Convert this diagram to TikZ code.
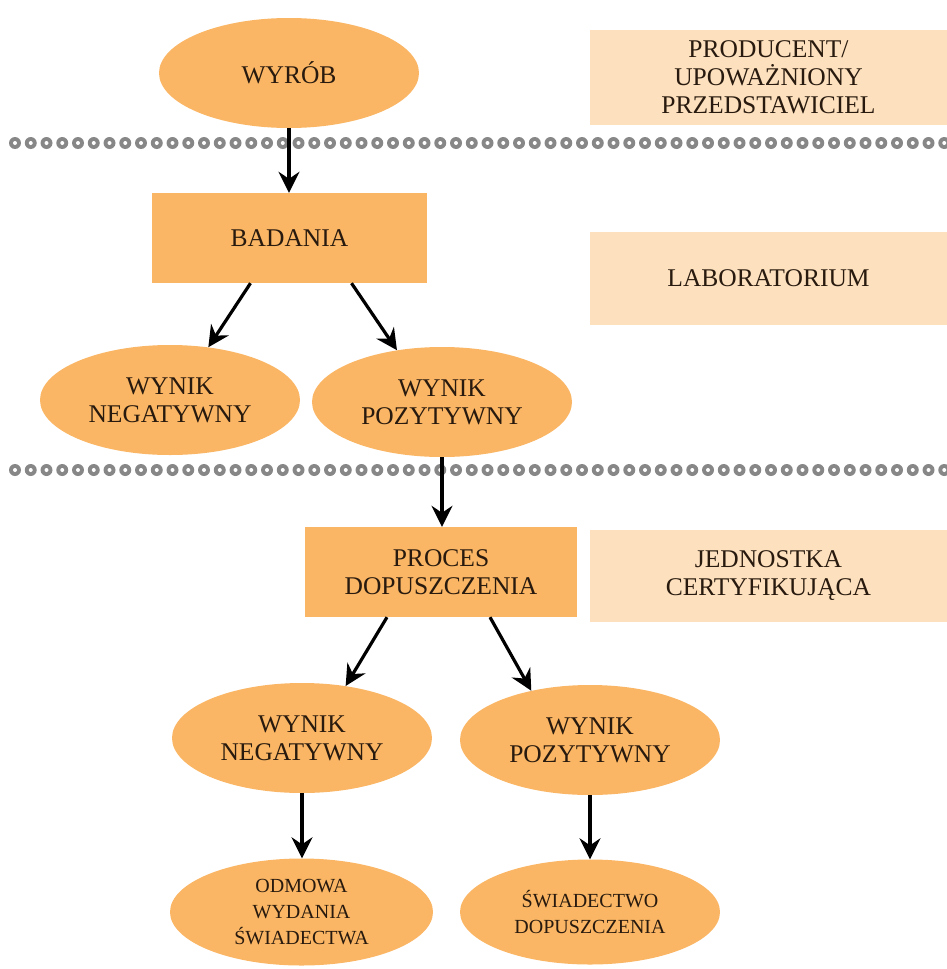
\documentclass[tikz,border=0pt]{standalone}
\usepackage{fontspec}
\setmainfont{Liberation Serif}
\usetikzlibrary{shapes.geometric,arrows.meta,calc}
\definecolor{orangefill}{RGB}{250,182,100}
\definecolor{peachfill}{RGB}{253,224,190}
\definecolor{txtcol}{RGB}{40,26,14}
\definecolor{dotgray}{RGB}{135,135,135}
\tikzset{
  oval/.style={ellipse, fill=orangefill, inner sep=0pt, minimum width=260pt, minimum height=110pt, align=center, text=txtcol, font=\fontsize{25.5}{28}\selectfont},
  smalloval/.style={oval, font=\fontsize{20}{26}\selectfont},
  stepbox/.style={rectangle, fill=orangefill, inner sep=0pt, align=center, text=txtcol, font=\fontsize{25.5}{28}\selectfont},
  rolebox/.style={rectangle, fill=peachfill, inner sep=0pt, minimum width=357pt, align=center, text=txtcol, font=\fontsize{25.5}{28}\selectfont},
  arr/.style={line width=3.2pt, draw=black, -{Stealth[length=21pt,width=21pt,inset=7pt]}}
}
\begin{document}
\begin{tikzpicture}[x=1pt,y=-1pt]
\useasboundingbox (0,0) rectangle (947,969);
% separator lines
\foreach \yy in {143,470}{
  \foreach \i in {0,...,59}{
    \fill[dotgray] (15+15.75*\i,\yy) circle (6);
    \fill[white] (15+15.75*\i,\yy) circle (2);
  }
}
% role boxes
\node[rolebox, minimum height=95pt] (prod) at (768.5,77.5) {PRODUCENT/\\UPOWAŻNIONY\\PRZEDSTAWICIEL};
\node[rolebox, minimum height=93pt] (lab) at (768.5,278.5) {LABORATORIUM};
\node[rolebox, minimum height=92pt] (jedn) at (768.5,576) {JEDNOSTKA\\CERTYFIKUJĄCA};
% flow
\node[oval] (wyrob) at (289,73) {WYRÓB};
\node[stepbox, minimum width=275pt, minimum height=90pt] (badania) at (289.5,238) {BADANIA};
\node[oval] (neg1) at (170,400) {WYNIK\\NEGATYWNY};
\node[oval] (pos1) at (442,402) {WYNIK\\POZYTYWNY};
\node[stepbox, minimum width=272pt, minimum height=90pt] (proces) at (441,572) {PROCES\\DOPUSZCZENIA};
\node[oval] (neg2) at (302,738) {WYNIK\\NEGATYWNY};
\node[oval] (pos2) at (590,740) {WYNIK\\POZYTYWNY};
\node[smalloval, minimum width=263pt, minimum height=107pt] (odm) at (301.5,912) {ODMOWA\\WYDANIA\\ŚWIADECTWA};
\node[smalloval, minimum height=105pt] (swi) at (590,912) {ŚWIADECTWO\\DOPUSZCZENIA};
% connectors
\draw[arr] (wyrob.south) -- (wyrob.south |- badania.north);
\draw[arr] ($(badania.south)+(-39,0)$) -- (neg1.54);
\draw[arr] ($(badania.south)+(62,0)$) -- (pos1.131);
\draw[arr] (pos1.south) -- (pos1.south |- proces.north);
\draw[arr] ($(proces.south)+(-54,0)$) -- (neg2.50);
\draw[arr] ($(proces.south)+(49,0)$) -- (pos2.140);
\draw[arr] (neg2.south) -- (neg2.south |- odm.north);
\draw[arr] (pos2.south) -- (pos2.south |- swi.north);
\end{tikzpicture}
\end{document}
